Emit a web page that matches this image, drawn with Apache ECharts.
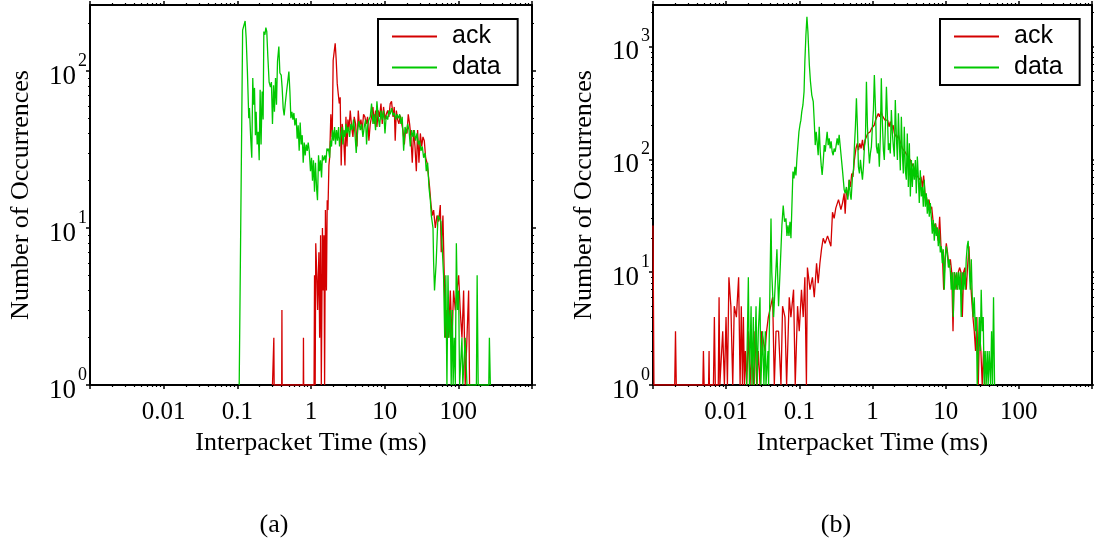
<!DOCTYPE html>
<html><head><meta charset="utf-8">
<script src="https://cdn.jsdelivr.net/npm/echarts@6/dist/echarts.min.js"></script>
<style>html,body{margin:0;padding:0;background:#fff}#c{width:1094px;height:548px}</style>
</head><body><div id="c"></div>
<script>
// ---------------- data ----------------
const seriesNames = ['ack', 'data'];
const subCaptions = ['(a)', '(b)'];
const xTitle = 'Interpacket Time (ms)';
const yTitle = 'Number of Occurrences';

const xMin = 0.001, xMax = 1000;
const yMinAll = 1, yMaxA = 263, yMaxB = 2340;

const xMajorTicks = [0.001, 0.01, 0.1, 1, 10, 100, 1000];
const xTickVals = [0.01, 0.1, 1, 10, 100];
const xTickLabels = ['0.01', '0.1', '1', '10', '100'];
const yTickValsA = [1, 10, 100];
const yTickExpA = ['0', '1', '2'];
const yTickValsB = [1, 10, 100, 1000];
const yTickExpB = ['0', '1', '2', '3'];
const minorMult = [2, 3, 4, 5, 6, 7, 8, 9];

// (a) ack
const ackA = [[0.3,1],[0.31,1],[0.313,2],[0.316,1],[0.4,1],[0.403,3],[0.406,1],[0.785,1],[0.79,2],[0.795,1],[1.1,1],[1.117,5],[1.14,1],[1.16,8],[1.2,5],[1.23,3],[1.28,7],[1.31,2],[1.35,9],[1.38,1],[1.43,10],[1.47,4],[1.5,9],[1.53,1],[1.57,13],[1.62,4],[1.66,15],[1.7,13],[1.75,25],[1.79,28],[1.86,53],[1.94,38],[2.0,117],[2.07,120],[2.13,150],[2.2,117],[2.27,83],[2.34,72],[2.42,62],[2.49,68],[2.57,25],[2.65,46],[2.77,38],[2.89,25],[2.98,51],[3.08,33],[3.17,49],[3.27,42],[3.41,56],[3.56,44],[3.71,38],[3.86,51],[4.03,46],[4.21,33],[4.38,56],[4.56,44],[4.76,49],[4.96,42],[5.17,53],[5.39,51],[5.62,46],[5.86,51],[6.11,36],[6.37,46],[6.64,51],[6.93,59],[7.22,46],[7.52,56],[7.85,44],[8.18,56],[8.53,51],[8.91,62],[9.27,46],[9.66,59],[10.1,49],[10.5,53],[11.0,56],[11.4,51],[11.9,62],[12.4,64],[13.0,51],[13.5,59],[13.9,36],[14.4,56],[15.0,49],[15.6,46],[16.3,52],[17.0,51],[17.7,42],[18.5,34],[19.2,42],[20.1,40],[20.9,53],[21.8,46],[22.7,38],[23.7,26],[24.7,42],[25.8,33],[26.9,23],[28.0,42],[29.2,26],[30.5,40],[31.8,33],[33.1,38],[34.5,36],[36.0,28],[37.6,26],[39.1,22],[40.8,18],[42.6,14],[44.4,12],[46.2,13],[48.7,10],[51.3,12],[54.1,11],[56.9,14],[58.6,7],[61.8,12],[64.4,5],[67,2],[70,3],[73.8,2],[77.8,4],[82,2],[86.3,4],[91,3],[95.9,4],[101,5],[106,3],[112,2],[118,4],[124,1],[131,2],[138,4],[142,1]];

// (a) data
const dataA = [[0.106,1],[0.118,182],[0.1236,187],[0.1276,208],[0.1318,162],[0.137,99],[0.143,50],[0.146,58],[0.152,37],[0.157,28],[0.162,90],[0.166,61],[0.171,78],[0.176,39],[0.18,55],[0.186,34],[0.192,41],[0.198,27],[0.204,76],[0.21,34],[0.217,74],[0.224,49],[0.229,178],[0.237,170],[0.244,189],[0.251,178],[0.259,126],[0.27,85],[0.282,79],[0.29,85],[0.30,46],[0.31,81],[0.319,55],[0.33,90],[0.34,61],[0.351,115],[0.366,143],[0.378,97],[0.394,94],[0.406,78],[0.419,58],[0.432,52],[0.446,61],[0.46,70],[0.48,72],[0.501,99],[0.517,74],[0.533,50],[0.55,55],[0.568,49],[0.586,54],[0.604,45],[0.63,50],[0.649,37],[0.67,45],[0.691,31],[0.713,47],[0.736,34],[0.76,39],[0.784,26],[0.809,35],[0.834,29],[0.861,34],[0.888,31],[0.916,35],[0.946,31],[0.985,23],[1.016,28],[1.048,20],[1.08,27],[1.116,17],[1.15,26],[1.19,18],[1.225,15],[1.265,29],[1.306,23],[1.346,27],[1.39,21],[1.43,29],[1.48,27],[1.545,29],[1.59,26],[1.645,32],[1.71,31],[1.73,32],[1.79,28],[1.84,36],[1.9,33],[1.96,42],[2.02,36],[2.09,44],[2.15,34],[2.22,42],[2.29,36],[2.37,44],[2.44,33],[2.52,38],[2.63,44],[2.71,34],[2.8,42],[2.89,38],[2.98,46],[3.08,40],[3.2,44],[3.34,38],[3.48,46],[3.63,42],[3.78,49],[3.95,40],[4.11,30],[4.29,42],[4.47,48],[4.66,42],[4.86,46],[5.07,38],[5.28,44],[5.51,49],[5.68,34],[5.86,44],[6.11,49],[6.37,51],[6.64,62],[6.93,46],[7.22,53],[7.52,42],[7.85,64],[8.18,51],[8.53,44],[8.91,56],[9.27,49],[9.66,56],[10.1,40],[10.5,52],[11.0,49],[11.4,56],[11.9,53],[12.4,58],[13.0,52],[13.5,54],[14.1,49],[14.7,53],[15.3,50],[16.0,53],[16.6,46],[17.3,51],[18.1,31],[18.9,44],[19.7,40],[20.5,46],[21.4,42],[22.3,33],[23.2,42],[24.2,38],[25.2,42],[26.3,36],[27.5,40],[28.6,34],[29.8,36],[31.1,31],[32.4,33],[33.8,28],[35.3,30],[36.7,23],[38.3,26],[40.0,18],[41.7,15],[43,12],[44,12],[45.3,10],[46.2,6],[47.5,4],[50,6],[53,12],[56,12],[58,11],[60,8],[63,5],[65.3,2],[67.7,5],[70,1],[72.4,5],[74.6,2],[77.8,3],[80,1],[83,3],[85,1],[88,2],[91,1],[94,8],[97.5,3],[101,4],[104,1],[112,2],[115,1],[124,2],[131,1],[176,1],[180,5],[186,1],[259,1],[264,2],[272,1]];

// (b) ack
const ackB = [[0.001,26],[0.00103,1],[0.00198,1],[0.00203,3],[0.00208,1],[0.0048,1],[0.00489,2],[0.005,1],[0.00575,1],[0.00584,2],[0.0059,1],[0.0067,1],[0.0069,4],[0.0071,1],[0.0078,1],[0.008,6],[0.0082,1],[0.00897,3],[0.00946,1],[0.00996,4],[0.0104,1],[0.0109,9],[0.0116,5],[0.0123,1],[0.0129,5],[0.0138,4],[0.0148,9],[0.0155,1],[0.0161,5],[0.0167,1],[0.0172,4],[0.0178,1],[0.0183,2],[0.0191,1],[0.0201,3],[0.0212,1],[0.0223,2],[0.0235,1],[0.0248,3],[0.0261,1],[0.0275,2],[0.029,1],[0.0306,3],[0.0322,3],[0.034,2],[0.0357,3],[0.0377,4],[0.0397,4],[0.0432,6],[0.0455,1],[0.048,3],[0.052,3],[0.0561,1],[0.059,5],[0.0636,4],[0.067,1],[0.0728,6],[0.0767,4],[0.0834,7],[0.0879,1],[0.0946,5],[0.0997,3],[0.107,7],[0.113,4],[0.119,9],[0.125,1],[0.129,11],[0.14,7],[0.151,9],[0.16,6],[0.172,12],[0.181,8],[0.191,12],[0.201,16],[0.212,20],[0.225,18],[0.243,21],[0.256,21],[0.27,17],[0.284,34],[0.299,30],[0.315,37],[0.343,44],[0.37,36],[0.389,41],[0.41,50],[0.423,33],[0.44,54],[0.46,47],[0.48,66],[0.5,57],[0.52,75],[0.54,70],[0.566,99],[0.594,125],[0.62,139],[0.642,121],[0.67,139],[0.699,125],[0.729,149],[0.76,121],[0.79,149],[0.826,159],[0.86,170],[0.894,165],[0.93,176],[0.97,188],[1.01,195],[1.06,202],[1.1,223],[1.15,230],[1.2,256],[1.25,239],[1.31,265],[1.36,245],[1.42,239],[1.48,223],[1.55,230],[1.61,223],[1.68,195],[1.75,216],[1.83,182],[1.91,202],[1.99,170],[2.08,176],[2.17,154],[2.26,165],[2.35,149],[2.45,144],[2.56,125],[2.67,130],[2.78,117],[2.9,113],[3.03,106],[3.16,102],[3.29,99],[3.43,86],[3.58,92],[3.73,80],[3.89,83],[4.06,72],[4.23,75],[4.41,66],[4.6,70],[4.8,57],[5.0,72],[5.22,50],[5.44,47],[5.68,41],[5.92,44],[6.17,36],[6.44,38],[6.71,29],[7.0,25],[7.3,27],[7.62,22],[7.94,19],[8.28,31],[8.63,17],[9.0,15],[9.39,7],[9.79,13],[10.2,18],[10.6,15],[11.1,11],[11.6,13],[12.1,10],[12.6,3],[13.1,10],[13.7,9],[14.3,7],[14.9,10],[15.5,11],[16.2,10],[16.9,4],[17.6,10],[18.3,11],[19.1,7],[19.9,11],[20.8,17],[21.7,9],[22.6,6],[23.6,4],[24.6,3],[25.6,2],[26.7,4],[27.9,1],[29.0,3],[30.3,2],[31.6,1],[32.9,2],[34.3,1]];

// (b) data
const dataB = [[0.019,1],[0.0201,9],[0.0208,1],[0.0219,5],[0.0225,1],[0.0235,4],[0.0242,1],[0.0256,5],[0.0265,1],[0.0275,3],[0.029,6],[0.0298,1],[0.0315,3],[0.0328,1],[0.0343,3],[0.035,1],[0.0373,2],[0.038,1],[0.0397,8],[0.041,30],[0.042,10],[0.0445,4],[0.0469,8],[0.0494,16],[0.052,5],[0.0548,11],[0.0578,26],[0.0602,39],[0.0628,28],[0.0656,30],[0.0677,21],[0.07,26],[0.0722,21],[0.0745,28],[0.0768,20],[0.0792,39],[0.0818,78],[0.0844,68],[0.0871,86],[0.0899,72],[0.0927,102],[0.0957,134],[0.0988,176],[0.102,202],[0.105,223],[0.108,265],[0.112,304],[0.116,398],[0.119,735],[0.123,1267],[0.127,1841],[0.131,1355],[0.137,687],[0.142,488],[0.148,372],[0.155,325],[0.16,216],[0.165,134],[0.17,176],[0.175,144],[0.181,109],[0.187,195],[0.193,117],[0.199,89],[0.205,73],[0.212,95],[0.219,134],[0.226,117],[0.233,145],[0.24,176],[0.248,134],[0.256,154],[0.264,125],[0.272,145],[0.281,117],[0.29,109],[0.299,125],[0.309,117],[0.319,134],[0.329,154],[0.34,134],[0.35,165],[0.37,113],[0.389,80],[0.41,54],[0.423,50],[0.44,57],[0.46,44],[0.48,66],[0.495,50],[0.51,44],[0.532,70],[0.549,80],[0.566,130],[0.584,195],[0.603,348],[0.622,195],[0.642,86],[0.663,75],[0.684,99],[0.706,80],[0.729,66],[0.752,86],[0.776,130],[0.8,149],[0.826,488],[0.853,195],[0.88,130],[0.908,92],[0.936,113],[0.966,130],[0.997,195],[1.03,274],[1.06,560],[1.1,274],[1.13,130],[1.17,113],[1.2,139],[1.24,86],[1.28,159],[1.32,524],[1.36,223],[1.41,121],[1.45,99],[1.5,195],[1.55,441],[1.6,239],[1.65,121],[1.7,139],[1.75,113],[1.81,274],[1.87,170],[1.93,130],[1.99,106],[2.05,336],[2.12,159],[2.19,99],[2.26,256],[2.33,139],[2.4,80],[2.48,239],[2.56,113],[2.64,75],[2.72,195],[2.81,80],[2.9,66],[2.99,170],[3.09,57],[3.19,139],[3.29,47],[3.4,99],[3.5,57],[3.61,92],[3.73,66],[3.85,99],[3.97,50],[4.1,106],[4.23,70],[4.36,41],[4.5,80],[4.65,47],[4.8,57],[4.95,38],[5.1,66],[5.27,38],[5.44,50],[5.61,33],[5.79,44],[5.97,31],[6.17,41],[6.36,31],[6.56,22],[6.77,29],[6.99,19],[7.21,27],[7.44,21],[7.68,25],[7.93,17],[8.18,24],[8.44,15],[8.71,17],[8.99,12],[9.27,16],[9.57,7],[9.88,13],[10.2,17],[10.5,15],[10.9,11],[11.2,13],[11.6,10],[11.9,7],[12.3,10],[12.7,4],[13.1,10],[13.5,7],[14.0,10],[14.4,7],[14.9,10],[15.3,7],[15.8,10],[16.3,4],[16.9,10],[17.4,7],[17.9,10],[18.5,7],[19.1,13],[19.7,17],[20.3,19],[21.0,11],[21.7,7],[22.4,13],[23.1,6],[23.8,4],[24.6,6],[25.4,3],[26.2,4],[27.0,1],[27.9,2],[28.8,4],[29.7,2],[30.6,7],[31.6,3],[32.6,4],[33.6,1],[34.7,2],[35.8,1],[37.0,2],[38.1,1],[39.3,2],[41.1,1],[42.4,3],[43.7,1],[45.1,6],[46.6,1]];

// ---------------- chart ----------------
const SERIF = 'Liberation Serif';
const SANS = 'Liberation Sans';
const RED = '#d40000';
const GREEN = '#00c800';

function minorList(decades, maxV) {
  const out = [];
  decades.forEach(d => minorMult.forEach(m => { const v = +(d * m).toPrecision(6); if (v <= maxV) out.push(v); }));
  return out;
}
const xMinor = minorList([0.001, 0.01, 0.1, 1, 10, 100], xMax);
const yMinorA = minorList([1, 10, 100], yMaxA);
const yMinorB = minorList([1, 10, 100, 1000], yMaxB);

function idxOf(arr, v) {
  for (let i = 0; i < arr.length; i++) if (Math.abs(v / arr[i] - 1) < 1e-6) return i;
  return -1;
}

function makeXAxes(g) {
  const base = {
    type: 'log', logBase: 10, gridIndex: g, min: xMin, max: xMax,
    splitLine: { show: false }, minorTick: { show: false }, minorSplitLine: { show: false }
  };
  const line = { show: true, onZero: false, lineStyle: { color: '#000', width: 2 } };
  const noLine = { show: false };
  const tickMaj = { show: true, inside: false, length: 4, customValues: xMajorTicks, lineStyle: { color: '#000', width: 1.5 } };
  const tickMin = { show: true, inside: false, length: 2, customValues: xMinor, lineStyle: { color: '#000', width: 1.2 } };
  return [
    Object.assign({}, base, {
      position: 'bottom', axisLine: line, axisTick: tickMaj,
      axisLabel: {
        show: true, customValues: xTickVals, margin: 15,
        fontFamily: SERIF, fontSize: 25, color: '#000',
        formatter: v => { const i = idxOf(xTickVals, v); return i < 0 ? '' : xTickLabels[i]; }
      },
      name: xTitle, nameLocation: 'middle', nameGap: 45,
      nameTextStyle: { fontFamily: SERIF, fontSize: 26, color: '#000' }
    }),
    Object.assign({}, base, { position: 'bottom', axisLine: noLine, axisTick: tickMin, axisLabel: { show: false } }),
    Object.assign({}, base, { position: 'top', axisLine: line, axisTick: tickMaj, axisLabel: { show: false } }),
    Object.assign({}, base, { position: 'top', axisLine: noLine, axisTick: tickMin, axisLabel: { show: false } })
  ];
}

function makeYAxes(g, maxV, tickVals, tickExp, minorVals) {
  const base = {
    type: 'log', logBase: 10, gridIndex: g, min: yMinAll, max: maxV,
    splitLine: { show: false }, minorTick: { show: false }, minorSplitLine: { show: false }
  };
  const line = { show: true, onZero: false, lineStyle: { color: '#000', width: 2 } };
  const noLine = { show: false };
  const tickMaj = { show: true, inside: false, length: 4, customValues: tickVals, lineStyle: { color: '#000', width: 1.5 } };
  const tickMin = { show: true, inside: false, length: 2, customValues: minorVals, lineStyle: { color: '#000', width: 1.2 } };
  return [
    Object.assign({}, base, {
      position: 'left', axisLine: line, axisTick: tickMaj,
      axisLabel: {
        show: true, customValues: tickVals, margin: 3,
        formatter: v => { const i = idxOf(tickVals, v); return i < 0 ? '' : '{b|10}{s|' + tickExp[i] + '}'; },
        rich: {
          b: { fontFamily: SERIF, fontSize: 27, color: '#000', lineHeight: 38, verticalAlign: 'bottom', padding: [0, 2, 0, 0] },
          s: { fontFamily: SERIF, fontSize: 18, color: '#000', lineHeight: 16, verticalAlign: 'top' }
        }
      },
      name: yTitle, nameLocation: 'middle', nameGap: 56,
      nameTextStyle: { fontFamily: SERIF, fontSize: 26, color: '#000' }
    }),
    Object.assign({}, base, { position: 'left', axisLine: noLine, axisTick: tickMin, axisLabel: { show: false } }),
    Object.assign({}, base, { position: 'right', axisLine: line, axisTick: tickMaj, axisLabel: { show: false } }),
    Object.assign({}, base, { position: 'right', axisLine: noLine, axisTick: tickMin, axisLabel: { show: false } })
  ];
}

function lineSeries(name, data, color, xi, yi) {
  return {
    name: name, type: 'line', data: data, xAxisIndex: xi, yAxisIndex: yi,
    showSymbol: false, symbol: 'none', smooth: false,
    lineStyle: { color: color, width: 1.3 }, itemStyle: { color: color },
    emphasis: { disabled: true }, animation: false
  };
}

function legendAt(left) {
  return {
    left: left, top: 19, orient: 'vertical', data: seriesNames,
    icon: 'rect', itemWidth: 45, itemHeight: 2, itemGap: 6, padding: [5, 17, 5, 14],
    borderColor: '#000', borderWidth: 2, backgroundColor: '#fff',
    selectedMode: false,
    textStyle: { fontFamily: SANS, fontSize: 25, color: '#000', lineHeight: 25, padding: [0, 0, 0, 10] }
  };
}

const option = {
  animation: false,
  backgroundColor: '#fff',
  grid: [
    { left: 90, top: 5, width: 442, height: 380, containLabel: false, outerBoundsMode: 'none' },
    { left: 653, top: 5, width: 439, height: 380, containLabel: false, outerBoundsMode: 'none' }
  ],
  xAxis: makeXAxes(0).concat(makeXAxes(1)),
  yAxis: makeYAxes(0, yMaxA, yTickValsA, yTickExpA, yMinorA).concat(makeYAxes(1, yMaxB, yTickValsB, yTickExpB, yMinorB)),
  legend: [legendAt(378), legendAt(940)],
  series: [
    lineSeries(seriesNames[0], ackA, RED, 0, 0),
    lineSeries(seriesNames[1], dataA, GREEN, 0, 0),
    lineSeries(seriesNames[0], ackB, RED, 4, 4),
    lineSeries(seriesNames[1], dataB, GREEN, 4, 4)
  ],
  graphic: [
    { type: 'text', x: 274, y: 525, style: { text: subCaptions[0], font: '26px "Liberation Serif"', fill: '#000', textAlign: 'center', textVerticalAlign: 'middle' } },
    { type: 'text', x: 836, y: 525, style: { text: subCaptions[1], font: '26px "Liberation Serif"', fill: '#000', textAlign: 'center', textVerticalAlign: 'middle' } }
  ]
};

const chart = echarts.init(document.getElementById('c'), null, { renderer: 'canvas' });
chart.setOption(option);
</script></body></html>
